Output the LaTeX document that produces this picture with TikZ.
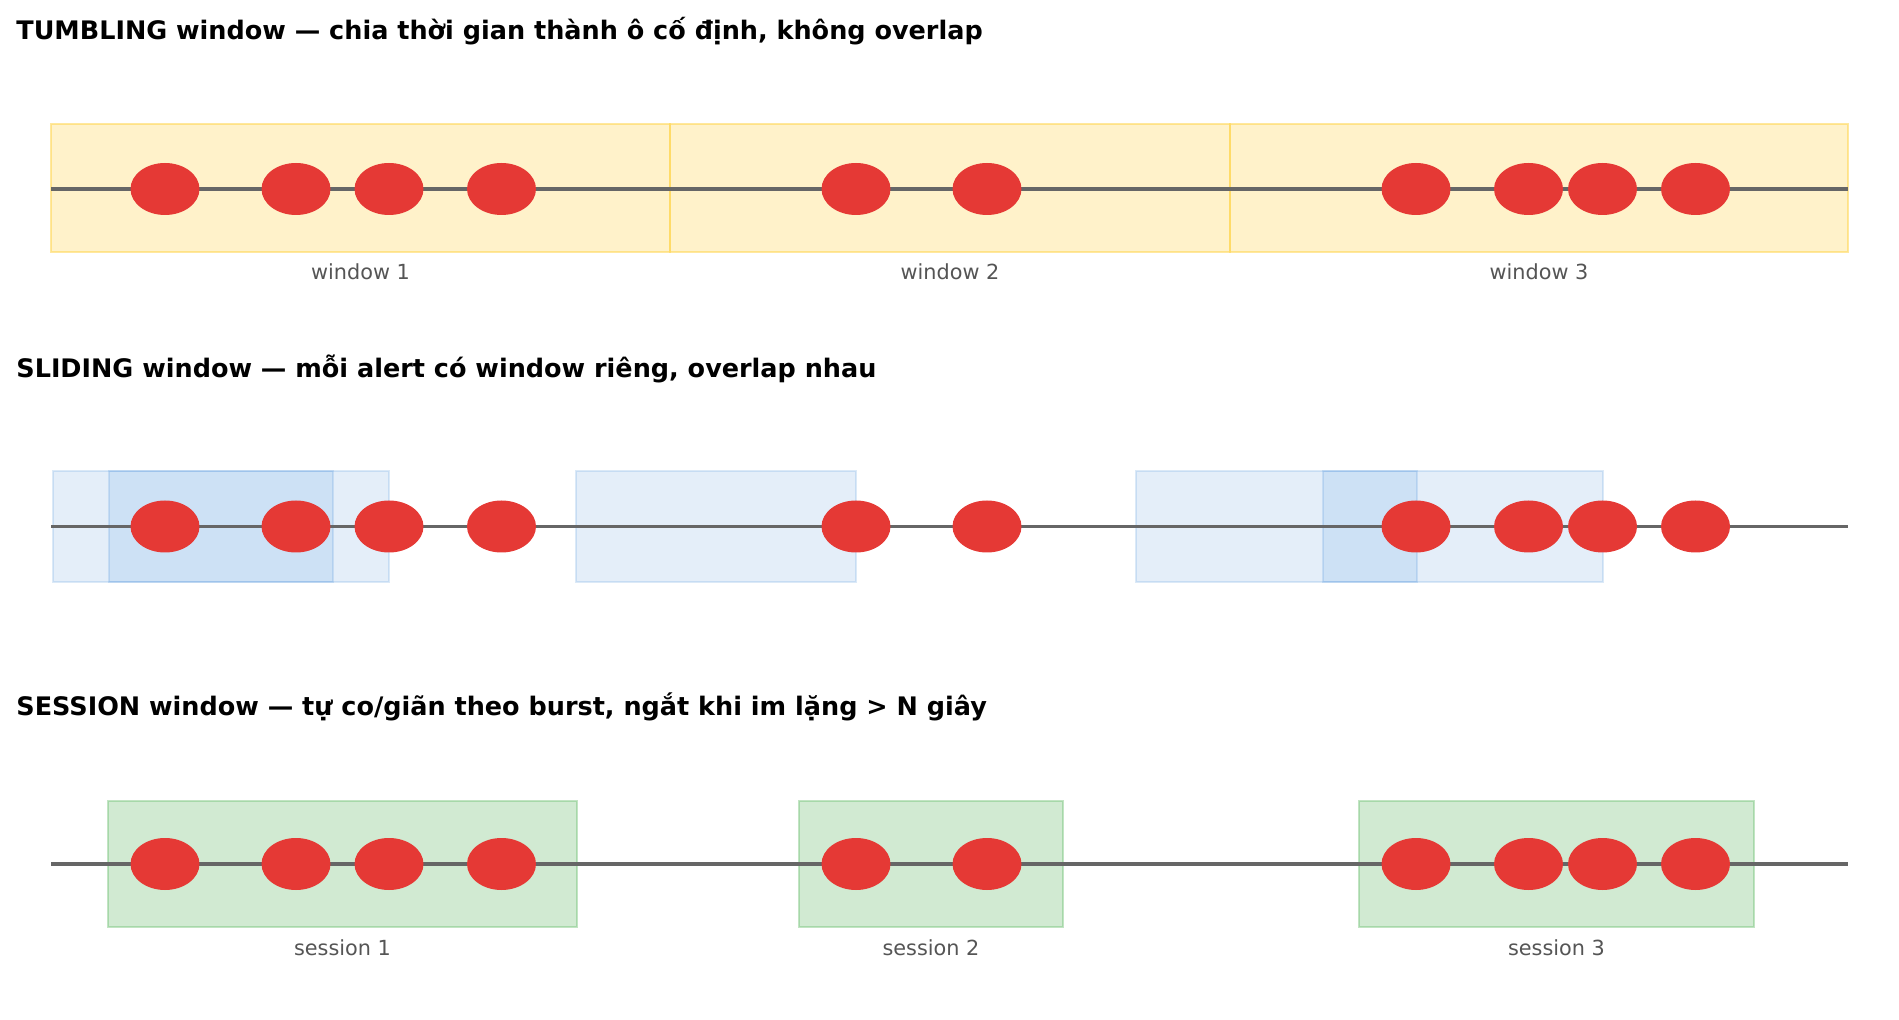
\documentclass[tikz,border=0pt]{standalone}
\usepackage{fontspec}
\setmainfont{DejaVu Sans}
\usetikzlibrary{shapes.geometric,positioning}
\definecolor{evred}{HTML}{E53935}
\definecolor{axisgray}{HTML}{666666}
\definecolor{lblgray}{HTML}{555555}
\definecolor{tumbyellow}{HTML}{FFD54F}
\definecolor{slideblue}{HTML}{4A90D9}
\definecolor{sessgreen}{HTML}{66BB6A}
\tikzset{
  event/.style={ellipse,fill=evred,inner sep=0pt,minimum width=34.5pt,minimum height=26pt},
  timeline/.style={draw=axisgray,line width=1.75pt},
  tumblebox/.style={fill=tumbyellow,draw=tumbyellow,fill opacity=0.3,draw opacity=0.55,line width=1.4pt},
  slidebox/.style={fill=slideblue,draw=slideblue,fill opacity=0.15,draw opacity=0.2,line width=1.25pt},
  sessbox/.style={fill=sessgreen,draw=sessgreen,fill opacity=0.3,draw opacity=0.4,line width=1.3pt},
  heading/.style={anchor=base west,inner sep=0pt,font=\fontsize{12.75}{15}\selectfont\bfseries},
  boxlabel/.style={anchor=base,inner sep=0pt,text=lblgray,font=\fontsize{10.4}{12}\selectfont}
}

\begin{document}
\begin{tikzpicture}[x=0.5pt,y=-0.5pt]
\useasboundingbox (0,0) rectangle (1899,1020);
% tumbling
\node (tumbtitle) [heading] at (16,40) {TUMBLING window — chia thời gian thành ô cố định, không overlap};
\draw[tumblebox] (51,124) rectangle (670,252);
\draw[tumblebox] (670,124) rectangle (1230,252);
\draw[tumblebox] (1230,124) rectangle (1848,252);
\node (win1) [boxlabel] at (360.5,279.5) {window 1};
\node (win2) [boxlabel] at (950,279.5) {window 2};
\node (win3) [boxlabel] at (1539,279.5) {window 3};
\coordinate (tumbstart) at (51,189); \coordinate (tumbend) at (1848,189);
\draw[timeline] (tumbstart)--(tumbend);
\foreach \x [count=\i] in {165,296,389,501.5,856,987,1416,1528.5,1602.5,1695.5}
  \node (tumb\i) [event] at (\x,189) {};
% sliding
\node (slidetitle) [heading] at (16,377.5) {SLIDING window — mỗi alert có window riêng, overlap nhau};
\draw[slidebox] (53,471) rectangle (333,582);
\draw[slidebox] (109,471) rectangle (389,582);
\draw[slidebox] (576,471) rectangle (856,582);
\draw[slidebox] (1136,471) rectangle (1417,582);
\draw[slidebox] (1323,471) rectangle (1603,582);
\coordinate (slidestart) at (51,526.5); \coordinate (slideend) at (1848,526.5);
\draw[timeline] (slidestart)--(slideend);
\foreach \x [count=\i] in {165,296,389,501.5,856,987,1416,1528.5,1602.5,1695.5}
  \node (slide\i) [event] at (\x,526.5) {};
% session
\node (sesstitle) [heading] at (16,715) {SESSION window — tự co/giãn theo burst, ngắt khi im lặng > N giây};
\draw[sessbox] (108,801) rectangle (577,927);
\draw[sessbox] (799,801) rectangle (1063,927);
\draw[sessbox] (1359,801) rectangle (1754,927);
\node (sess1) [boxlabel] at (342.5,955) {session 1};
\node (sess2) [boxlabel] at (931,955) {session 2};
\node (sess3) [boxlabel] at (1556.5,955) {session 3};
\coordinate (sessstart) at (51,864); \coordinate (sessend) at (1848,864);
\draw[timeline] (sessstart)--(sessend);
\foreach \x [count=\i] in {165,296,389,501.5,856,987,1416,1528.5,1602.5,1695.5}
  \node (burst\i) [event] at (\x,864) {};
\end{tikzpicture}
\end{document}
